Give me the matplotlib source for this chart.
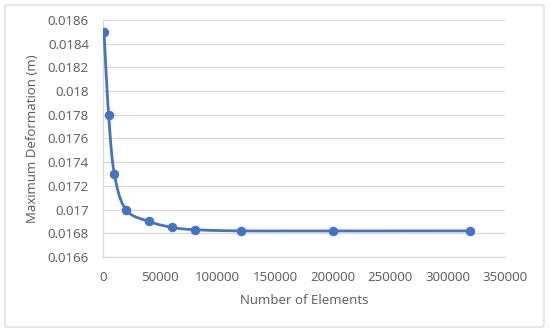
import matplotlib

matplotlib.use("Agg")
import matplotlib.pyplot as plt
import numpy as np
from matplotlib.patches import FancyBboxPatch
from matplotlib.ticker import FuncFormatter, MultipleLocator

elements = [1000, 5000, 10000, 20000, 40000, 60000, 80000, 120000, 200000, 320000]
deformation = [0.0185, 0.0178, 0.0173, 0.0170, 0.0169, 0.01685, 0.01683, 0.01682, 0.01682, 0.01682]

BLUE = "#4472C4"
GREY_TXT = "#595959"
GRID = "#D9D9D9"


def smooth(x, y, n=20):
    """Catmull-Rom curve through the points, like Excel's smoothed line."""
    x = np.asarray(x, float)
    y = np.asarray(y, float)
    px = np.concatenate([[x[0]], x, [x[-1]]])
    py = np.concatenate([[y[0]], y, [y[-1]]])
    xs, ys = [], []
    t = np.linspace(0, 1, n)
    for i in range(1, len(px) - 2):
        p0, p1, p2, p3 = (np.array([px[j], py[j]]) for j in (i - 1, i, i + 1, i + 2))
        c1 = p1 + (p2 - p0) / 6
        c2 = p2 - (p3 - p1) / 6
        pts = ((1 - t) ** 3)[:, None] * p1 + (3 * (1 - t) ** 2 * t)[:, None] * c1 \
            + (3 * (1 - t) * t ** 2)[:, None] * c2 + (t ** 3)[:, None] * p2
        xs.extend(pts[:, 0])
        ys.extend(pts[:, 1])
    return xs, ys


plt.rcParams["font.family"] = ["Open Sans", "DejaVu Sans"]

fig = plt.figure(figsize=(5.5, 3.32), dpi=100)
ax = fig.add_axes([0.187, 0.226, 0.731, 0.714])

sx, sy = smooth(elements, deformation)
ax.plot(sx, sy, color=BLUE, lw=2.0, zorder=3, solid_capstyle="round")
ax.plot(elements, deformation, "o", color=BLUE, ms=5.8, zorder=4)

ax.set_xlim(0, 350000)
ax.set_ylim(0.0166, 0.0186)
ax.xaxis.set_major_locator(MultipleLocator(50000))
ax.yaxis.set_major_locator(MultipleLocator(0.0002))
ax.yaxis.set_major_formatter(FuncFormatter(lambda v, _: f"{v:.4f}".rstrip("0")))
ax.xaxis.set_major_formatter(FuncFormatter(lambda v, _: f"{v:.0f}"))
ax.grid(axis="y", color=GRID, lw=0.9)
ax.set_axisbelow(True)
for side in ("top", "right"):
    ax.spines[side].set_visible(False)
for side in ("left", "bottom"):
    ax.spines[side].set_color(GRID)
    ax.spines[side].set_linewidth(0.9)
ax.tick_params(length=0, labelsize=9.5, labelcolor=GREY_TXT)
ax.tick_params(axis="y", pad=10)
ax.tick_params(axis="x", pad=10)
ax.set_xlabel("Number of Elements", fontsize=9.5, color=GREY_TXT, labelpad=7)
ax.set_ylabel("Maximum Deformation (m)", fontsize=9.5, color=GREY_TXT, labelpad=6)

fig.patches.append(FancyBboxPatch((0.009, 0.015), 0.98, 0.97, boxstyle="round,pad=0,rounding_size=0.005",
                                  transform=fig.transFigure, fill=False, ec=GRID, lw=0.9))

fig.savefig("out.png", dpi=100)
